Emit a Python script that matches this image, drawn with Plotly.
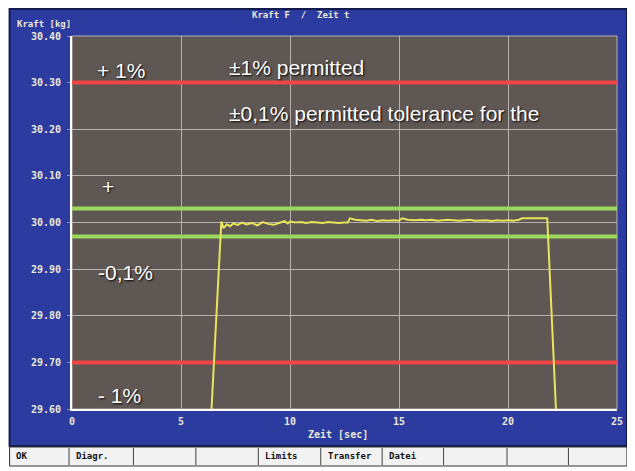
import plotly.graph_objects as go

# ---- data ----
time_s = [6.4, 6.85, 6.95, 7.1, 7.25, 7.4, 7.6, 7.8, 8.0, 8.25, 8.5, 8.75, 9.0, 9.25, 9.5,
          9.75, 9.9, 10.0, 10.25, 10.5, 10.75, 11.0, 11.25, 11.5, 11.75, 12.0, 12.25, 12.5,
          12.65, 12.75, 13.0, 13.25, 13.5, 13.75, 14.0, 14.25, 14.5, 14.75, 15.0, 15.15,
          15.4, 15.75, 16.0, 16.25, 16.5, 16.75, 17.0, 17.25, 17.5, 17.75, 18.0, 18.25,
          18.5, 18.75, 19.0, 19.25, 19.5, 19.75, 20.0, 20.25, 20.5, 20.65, 21.0, 21.25,
          21.5, 21.8, 22.2]
force_kg = [29.60, 30.002, 29.988, 29.996, 29.992, 29.998, 29.995, 30.000, 29.996, 29.999,
            29.994, 30.001, 29.997, 29.995, 29.999, 30.003, 29.998, 30.002, 30.000, 30.001,
            29.999, 30.001, 30.000, 29.999, 30.001, 30.000, 29.999, 30.000, 30.000, 30.009,
            30.006, 30.005, 30.004, 30.006, 30.003, 30.005, 30.004, 30.005, 30.004, 30.009,
            30.006, 30.005, 30.006, 30.005, 30.006, 30.004, 30.005, 30.006, 30.005, 30.004,
            30.005, 30.006, 30.004, 30.005, 30.005, 30.003, 30.005, 30.004, 30.005, 30.004,
            30.006, 30.009, 30.009, 30.009, 30.009, 30.009, 29.60]
limit_1pct = [30.30, 29.70]
limit_01pct = [30.03, 29.97]
y_ticks = [29.6, 29.7, 29.8, 29.9, 30.0, 30.1, 30.2, 30.3, 30.4]
x_ticks = [0, 5, 10, 15, 20, 25]
toolbar_labels = ["OK", "Diagr.", "", "", "Limits", "Transfer", "Datei", "", "", ""]
toolbar_edges = [8, 69, 134, 197, 260, 323, 385, 447, 511, 573, 632]

# page body has an 8px margin; positions below are given in window pixels
OFF = 8
W, H = 627, 463
L, R, T, B = 64, 13, 28, 62
PW, PH = W - L - R, H - T - B


def px(x):
    return (x - OFF - L) / PW


def py(y):
    return (H - B - (y - OFF)) / PH


BLUE = "#2b3ba0"
PLOT_BG = "#5f5754"
LABEL_COL = "#ece8d6"

fig = go.Figure()

for v in limit_1pct:
    fig.add_trace(go.Scatter(x=[0, 25], y=[v, v], mode="lines",
                             line=dict(color="#f04646", width=4), hoverinfo="skip"))
for v in limit_01pct:
    fig.add_trace(go.Scatter(x=[0, 25], y=[v, v], mode="lines",
                             line=dict(color="#9cd85c", width=4), hoverinfo="skip"))
fig.add_trace(go.Scatter(x=time_s, y=force_kg, mode="lines",
                         line=dict(color="#e6e65a", width=2)))

shapes = []
# blue screen
shapes.append(dict(type="rect", xref="paper", yref="paper", layer="below",
                   x0=px(9), x1=px(632), y0=py(446), y1=py(9),
                   fillcolor=BLUE, line=dict(color="#121a4e", width=2)))
# plot area
shapes.append(dict(type="rect", xref="paper", yref="paper", layer="below",
                   x0=0, x1=1, y0=0, y1=1, fillcolor=PLOT_BG,
                   line=dict(color="#b8b2ae", width=1)))
# toolbar
shapes.append(dict(type="rect", xref="paper", yref="paper",
                   x0=px(9), x1=px(632), y0=py(466), y1=py(447),
                   fillcolor="#f2f2f2", line=dict(color="#333333", width=1)))
for e in toolbar_edges[1:-1]:
    shapes.append(dict(type="line", xref="paper", yref="paper",
                       x0=px(e), x1=px(e), y0=py(465), y1=py(448),
                       line=dict(color="#444444", width=1)))

annotations = []
mono = "DejaVu Sans Mono"
annotations.append(dict(text="<b>Kraft F  /  Zeit t</b>", xref="paper", yref="paper",
                        x=px(303), y=py(15), yanchor="middle", showarrow=False,
                        font=dict(family=mono, size=9, color=LABEL_COL)))
annotations.append(dict(text="<b>Kraft [kg]</b>", xref="paper", yref="paper",
                        x=px(14), y=py(24), xanchor="left", yanchor="middle",
                        showarrow=False, font=dict(family=mono, size=9, color=LABEL_COL)))
annotations.append(dict(text="<b>Zeit [sec]</b>", xref="paper", yref="paper",
                        x=px(340), y=py(434), yanchor="middle", showarrow=False,
                        font=dict(family=mono, size=10, color=LABEL_COL)))
for lab, e0, e1 in zip(toolbar_labels, toolbar_edges[:-1], toolbar_edges[1:]):
    if lab:
        annotations.append(dict(text="<b>" + lab + "</b>", xref="paper", yref="paper",
                                x=px(e0 + 5), y=py(456), xanchor="left", yanchor="middle",
                                showarrow=False,
                                font=dict(family=mono, size=9, color="#111111")))

note_font = dict(family="Arial, Liberation Sans", size=21, color="#ffffff",
                 shadow="1px 1px 2px #000000")
notes = [("+ 1%", 95, 71), ("±1% permitted", 228, 67),
         ("±0,1% permitted tolerance for the", 228, 113), ("+", 100, 186),
         ("-0,1%", 96, 272), ("- 1%", 96, 395)]
for txt, x, y in notes:
    annotations.append(dict(text=txt, xref="paper", yref="paper", x=px(x), y=py(y),
                            xanchor="left", yanchor="middle", showarrow=False, font=note_font))

tick_font = dict(family=mono, size=10, color=LABEL_COL, weight="bold")

fig.update_layout(
    width=W, height=H,
    margin=dict(l=L, r=R, t=T, b=B),
    paper_bgcolor="#ffffff",
    plot_bgcolor=PLOT_BG,
    showlegend=False,
    shapes=shapes,
    annotations=annotations,
    xaxis=dict(range=[0, 25], tickvals=x_ticks, ticktext=[str(v) for v in x_ticks],
               showgrid=True, gridcolor="#b8b2ae", gridwidth=1,
               showline=True, linecolor="#ffffff", linewidth=2,
               zeroline=False, tickfont=tick_font, ticks="", ticklabelstandoff=2),
    yaxis=dict(range=[29.6, 30.4], tickvals=y_ticks,
               ticktext=["%.2f" % v for v in y_ticks],
               showgrid=True, gridcolor="#b8b2ae", gridwidth=1,
               showline=True, linecolor="#ffffff", linewidth=2,
               zeroline=False, tickfont=tick_font, ticks="outside", ticklen=3,
               tickcolor="#8890c0", ticklabelstandoff=4),
)

fig.write_html("out.html")
